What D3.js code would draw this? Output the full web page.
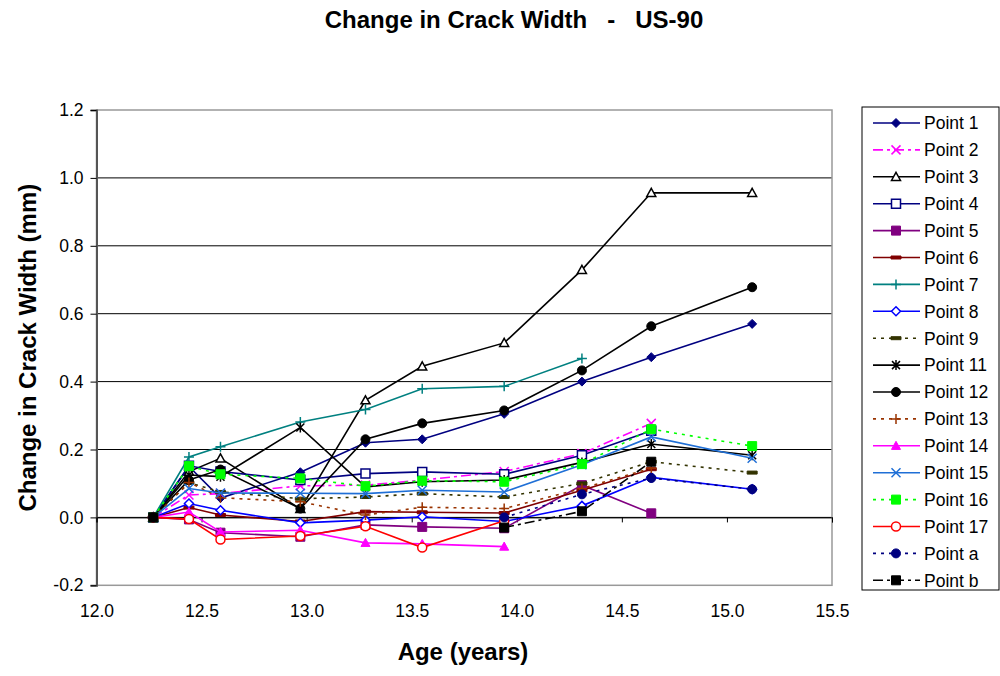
<!DOCTYPE html>
<html>
<head>
<meta charset="utf-8">
<script src="https://cdn.jsdelivr.net/npm/d3@7"></script>
<title>Change in Crack Width - US-90</title>
<style>
    body { margin: 0; background: #fff; }
    text { font-family: "Liberation Sans", Arial, sans-serif; fill: #000; }
    .bold { font-weight: bold; }
</style>
</head>
<body>
<svg width="1000" height="676"></svg>
<script>
    // ages (years) where crack widths were measured
    const ages = [12.27, 12.44, 12.59, 12.97, 13.28, 13.55, 13.94, 14.31, 14.64, 15.12];

    // change in crack width (mm), null = no reading
    const point1  = [0, 0.150, 0.057, 0.133, 0.220, 0.230, 0.305, 0.400, 0.472, 0.570];
    const point2  = [0, 0.066, 0.070, 0.093, 0.095, 0.110, 0.135, 0.188, 0.277, null];
    const point3  = [0, 0.135, 0.174, 0.025, 0.345, 0.445, 0.514, 0.729, 0.956, 0.956];
    const point4  = [0, 0.152, 0.135, 0.110, 0.129, 0.134, 0.127, 0.183, 0.255, null];
    const point5  = [0, -0.006, -0.045, -0.057, -0.022, -0.028, -0.032, 0.095, 0.012, null];
    const point6  = [0, 0.029, 0.007, -0.012, 0.017, 0.015, 0.013, 0.080, 0.142, null];
    const point7  = [0, 0.178, 0.208, 0.281, 0.318, 0.379, 0.386, 0.468, null, null];
    const point8  = [0, 0.041, 0.021, -0.016, -0.008, 0.002, -0.012, 0.034, 0.118, 0.083];
    const point9  = [0, 0.102, 0.075, 0.055, 0.060, 0.070, 0.060, 0.100, 0.164, 0.132];
    const point11 = [0, 0.125, 0.120, 0.265, 0.090, 0.105, 0.110, 0.162, 0.216, 0.183];
    const point12 = [0, 0.110, 0.141, 0.026, 0.230, 0.277, 0.315, 0.433, 0.563, 0.678];
    const point13 = [0, 0.103, 0.058, 0.046, 0.007, 0.030, 0.026, 0.085, 0.145, null];
    const point14 = [0, 0.016, -0.043, -0.038, -0.075, -0.078, -0.086, null, null, null];
    const point15 = [0, 0.085, 0.072, 0.071, 0.070, 0.080, 0.075, 0.155, 0.237, 0.174];
    const point16 = [0, 0.151, 0.127, 0.115, 0.092, 0.108, 0.105, 0.157, 0.260, 0.210];
    const point17 = [0, -0.005, -0.065, -0.055, -0.026, -0.089, -0.010, null, null, null];
    const pointA  = [0, null, null, null, null, null, 0.000, 0.068, 0.116, 0.083];
    const pointB  = [0, null, null, null, null, null, -0.030, 0.018, 0.164, null];

    const xTicks = [12.0, 12.5, 13.0, 13.5, 14.0, 14.5, 15.0, 15.5];
    const yTicks = [-0.2, 0.0, 0.2, 0.4, 0.6, 0.8, 1.0, 1.2];

    // name, values, colour, dash, marker, filled
    const series = [
        ["Point 1", point1, "#000080", null, "diamond", true],
        ["Point 2", point2, "#FF00FF", "10,4,3,4", "x", true],
        ["Point 3", point3, "#000000", null, "triangle", false],
        ["Point 4", point4, "#000080", null, "square", false],
        ["Point 5", point5, "#800080", null, "square", true],
        ["Point 6", point6, "#800000", null, "dash", true],
        ["Point 7", point7, "#008080", null, "plus", true],
        ["Point 8", point8, "#0000FF", null, "diamond", false],
        ["Point 9", point9, "#333300", "3,5", "dash", true],
        ["Point 11", point11, "#000000", null, "star", true],
        ["Point 12", point12, "#000000", null, "circle", true],
        ["Point 13", point13, "#993300", "3,5", "plus", true],
        ["Point 14", point14, "#FF00FF", null, "triangle", true],
        ["Point 15", point15, "#1F6FD6", null, "x", true],
        ["Point 16", point16, "#00FF00", "3,5", "square", true],
        ["Point 17", point17, "#FF0000", null, "circle", false],
        ["Point a", pointA, "#000080", "3,5", "circle", true],
        ["Point b", pointB, "#000000", "10,4,3,4", "square", true]
    ];

    const svg = d3.select("svg");
    const plotLeft = 96.5, plotRight = 832, plotTop = 110, plotBottom = 585.3;

    const x = d3.scaleLinear().domain([12.0, 15.5]).range([plotLeft, plotRight]);
    const y = d3.scaleLinear().domain([-0.2, 1.2]).range([plotBottom, plotTop]);
    const fmt = d => d3.format(".1f")(d).replace("\u2212", "-");

    // gridlines
    svg.append("g").selectAll("line")
        .data(yTicks.filter(d => d > -0.2 && d < 1.2))
        .enter().append("line")
        .attr("x1", plotLeft).attr("x2", plotRight)
        .attr("y1", d => y(d)).attr("y2", d => y(d))
        .attr("stroke", "#000").attr("stroke-width", 1);

    // plot border
    svg.append("rect")
        .attr("x", plotLeft).attr("y", plotTop)
        .attr("width", plotRight - plotLeft).attr("height", plotBottom - plotTop)
        .attr("fill", "none").attr("stroke", "#999").attr("stroke-width", 1.5);

    // y axis
    const yAxis = svg.append("g")
        .attr("transform", `translate(${plotLeft},0)`)
        .call(d3.axisLeft(y).tickValues(yTicks).tickFormat(fmt).tickSize(6).tickPadding(7));
    yAxis.select(".domain").attr("stroke", "#555").attr("stroke-width", 2);
    yAxis.selectAll(".tick line").attr("stroke", "#000");
    yAxis.selectAll("text").attr("font-size", 17.5).attr("font-family", "Liberation Sans, Arial, sans-serif");

    // x axis on zero line
    const xAxis = svg.append("g")
        .attr("transform", `translate(0,${y(0)})`)
        .call(d3.axisBottom(x).tickValues(xTicks).tickFormat(fmt).tickSize(5));
    xAxis.select(".domain").attr("stroke", "#000");
    xAxis.selectAll(".tick line").attr("stroke", "#000");
    xAxis.selectAll("text")
        .attr("font-size", 17.5).attr("font-family", "Liberation Sans, Arial, sans-serif")
        .attr("y", plotBottom - y(0) + 19).attr("dy", "0.71em");

    // marker shapes
    function markerPath(type, s) {
        switch (type) {
            case "diamond": return `M0,${-s}L${s},0L0,${s}L${-s},0Z`;
            case "square": return `M${-s},${-s}H${s}V${s}H${-s}Z`;
            case "triangle": return `M0,${-s}L${s},${s * 0.8}L${-s},${s * 0.8}Z`;
            case "x": return `M${-s},${-s}L${s},${s}M${-s},${s}L${s},${-s}`;
            case "plus": return `M${-s},0H${s}M0,${-s}V${s}`;
            case "star": return `M${-s},${-s}L${s},${s}M${-s},${s}L${s},${-s}M0,${-s - 1}V${s + 1}`;
            case "dash": return `M${-s},-1.5H${s}V1.5H${-s}Z`;
            case "circle": return d3.arc()({innerRadius: 0, outerRadius: s, startAngle: 0, endAngle: 2 * Math.PI});
        }
    }

    function drawMarker(g, type, color, filled) {
        const sizes = {diamond: 4.5, square: 4.5, triangle: 4.5, x: 4.5, plus: 5, star: 4, dash: 5, circle: 4.5};
        const p = g.append("path").attr("d", markerPath(type, sizes[type]));
        if (type === "x" || type === "plus" || type === "star") {
            p.attr("fill", "none").attr("stroke", color).attr("stroke-width", 1.5);
        } else if (filled) {
            p.attr("fill", color).attr("stroke", color).attr("stroke-width", 1);
        } else {
            p.attr("fill", "#fff").attr("stroke", color).attr("stroke-width", 1.5);
        }
    }

    const line = d3.line()
        .defined(d => d[1] !== null)
        .x(d => x(d[0]))
        .y(d => y(d[1]));

    const plot = svg.append("g");
    series.forEach(([name, vals, color, dash, marker, filled]) => {
        const pts = ages.map((a, i) => [a, vals[i]]);
        const g = plot.append("g");
        g.append("path")
            .attr("d", line(pts))
            .attr("fill", "none")
            .attr("stroke", color)
            .attr("stroke-width", 1.6)
            .attr("stroke-dasharray", dash);
        pts.filter(d => d[1] !== null).forEach(d => {
            const m = g.append("g").attr("transform", `translate(${x(d[0])},${y(d[1])})`);
            drawMarker(m, marker, color, filled);
        });
    });

    // legend
    const legend = svg.append("g");
    legend.append("rect")
        .attr("x", 862).attr("y", 107).attr("width", 137).attr("height", 483)
        .attr("fill", "#fff").attr("stroke", "#000").attr("stroke-width", 1);
    series.forEach(([name, vals, color, dash, marker, filled], i) => {
        const ly = 123 + i * 26.9;
        const g = legend.append("g");
        g.append("line")
            .attr("x1", 873).attr("x2", 920).attr("y1", ly).attr("y2", ly)
            .attr("stroke", color).attr("stroke-width", 1.6)
            .attr("stroke-dasharray", dash);
        const m = g.append("g").attr("transform", `translate(896,${ly})`);
        drawMarker(m, marker, color, filled);
        g.append("text")
            .attr("x", 924).attr("y", ly).attr("dy", "0.36em")
            .attr("font-size", 17.5)
            .text(name);
    });

    // titles
    svg.append("text")
        .attr("class", "bold")
        .attr("x", 514).attr("y", 28)
        .attr("text-anchor", "middle")
        .attr("font-size", 24)
        .style("white-space", "pre")
        .text("Change in Crack Width   -   US-90");

    svg.append("text")
        .attr("class", "bold")
        .attr("x", 463).attr("y", 660)
        .attr("text-anchor", "middle")
        .attr("font-size", 24)
        .text("Age (years)");

    svg.append("text")
        .attr("class", "bold")
        .attr("transform", `translate(36,${(plotTop + plotBottom) / 2}) rotate(-90)`)
        .attr("text-anchor", "middle")
        .attr("font-size", 24)
        .text("Change in Crack Width (mm)");
</script>
</body>
</html>
